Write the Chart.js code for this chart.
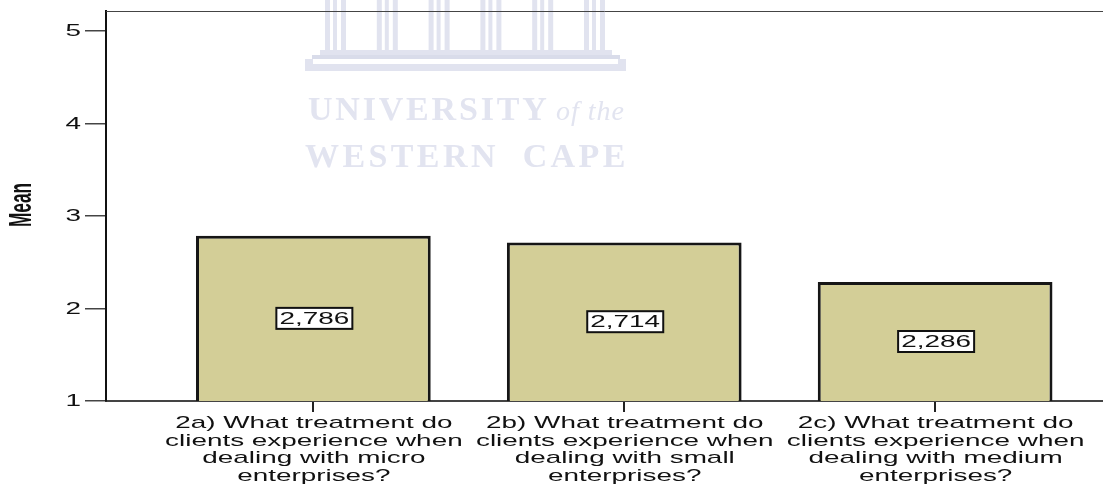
<!DOCTYPE html>
<html>
<head>
<meta charset="utf-8">
<style>html,body{margin:0;padding:0;background:#fff}#w{width:1103px;height:485px}</style>
<script src="https://cdn.jsdelivr.net/npm/chart.js@4"></script>
</head>
<body>
<div id="w"><canvas id="c" width="1103" height="485"></canvas></div>
<script>
const categories = [
  ["2a) What treatment do","clients experience when","dealing with micro","enterprises?"],
  ["2b) What treatment do","clients experience when","dealing with small","enterprises?"],
  ["2c) What treatment do","clients experience when","dealing with medium","enterprises?"]
];
const means = [2.786, 2.714, 2.286];
const yTicks = [1, 2, 3, 4, 5];
const yTitle = "Mean";
const watermark = ["UNIVERSITY", "of the", "WESTERN  CAPE"];

const SX = 1.64, FONT = '17px "Liberation Sans", Arial, sans-serif', INK = '#111';
function stretched(ctx, text, x, y, sx, align) {
  ctx.save();
  ctx.translate(x, y);
  ctx.scale(sx, 1);
  ctx.textAlign = align;
  ctx.textBaseline = 'middle';
  ctx.fillText(text, 0, 0);
  ctx.restore();
}
const fmt = v => v.toFixed(3).replace('.', ',');

const backdrop = {
  id: 'backdrop',
  beforeDraw(chart) {
    const ctx = chart.ctx;
    ctx.save();
    ctx.fillStyle = '#fff';
    ctx.fillRect(0, 0, 1103, 485);
    ctx.fillStyle = '#e1e3ef';
    for (let i = 0; i < 6; i++) {
      const x0 = 325 + i * 51.8;
      ctx.fillRect(x0, 0, 5, 50);
      ctx.fillRect(x0 + 8, 0, 4, 50);
      ctx.fillRect(x0 + 16, 0, 5, 50);
    }
    ctx.fillRect(320, 50, 292, 5);
    ctx.fillStyle = '#d9dcea';
    ctx.fillRect(312, 55, 308, 4);
    ctx.fillStyle = '#e1e3ef';
    ctx.fillRect(305, 64, 321, 7);
    ctx.fillRect(305, 59, 8, 5);
    ctx.fillRect(618, 59, 8, 5);
    ctx.fillStyle = '#e2e4f0';
    ctx.textBaseline = 'alphabetic';
    ctx.textAlign = 'left';
    ctx.font = 'bold 34px "Liberation Serif", serif';
    ctx.letterSpacing = '2.8px';
    ctx.fillText(watermark[0], 308, 120);
    ctx.font = 'italic 28px "Liberation Serif", serif';
    ctx.letterSpacing = '1px';
    ctx.fillText(watermark[1], 556, 120);
    ctx.font = 'bold 34px "Liberation Serif", serif';
    ctx.letterSpacing = '3.4px';
    ctx.fillText(watermark[2], 305, 167);
    ctx.restore();
  },
  afterDraw(chart) {
    const ctx = chart.ctx, a = chart.chartArea, xs = chart.scales.x, ys = chart.scales.y;
    ctx.save();
    ctx.strokeStyle = '#444';
    ctx.lineWidth = 1;
    ctx.beginPath();
    ctx.moveTo(a.left, a.top + 0.5);
    ctx.lineTo(1103, a.top + 0.5);
    ctx.stroke();

    ctx.fillStyle = INK;
    ctx.font = FONT;
    yTicks.forEach(v => stretched(ctx, String(v), 81, ys.getPixelForValue(v) + 0.5, SX, 'right'));
    categories.forEach((lines, i) => {
      const cx = xs.getPixelForValue(i) + 0.5;
      lines.forEach((t, j) => stretched(ctx, t, cx, 423.5 + j * 17.6, SX, 'center'));
    });

    ctx.save();
    ctx.translate(21.5, 205);
    ctx.rotate(-Math.PI / 2);
    ctx.font = 'bold 32px "Liberation Sans", Arial, sans-serif';
    stretched(ctx, yTitle, 0, 1, 0.54, 'center');
    ctx.restore();

    means.forEach((v, i) => {
      const cx = xs.getPixelForValue(i) + 1;
      const cy = (ys.getPixelForValue(v) + ys.getPixelForValue(ys.min)) / 2;
      ctx.fillStyle = '#fff';
      ctx.strokeStyle = '#111';
      ctx.lineWidth = 2;
      ctx.fillRect(cx - 38, cy - 10.5, 76, 21);
      ctx.strokeRect(cx - 38, cy - 10.5, 76, 21);
      ctx.fillStyle = INK;
      ctx.font = FONT;
      stretched(ctx, fmt(v), cx, cy + 0.5, SX, 'center');
    });
    ctx.restore();
  }
};

new Chart(document.getElementById('c'), {
  type: 'bar',
  data: {
    datasets: [{
      data: means.map((v, i) => ({ x: i, y: v })),
      backgroundColor: '#d3ce97',
      borderColor: '#161616',
      borderWidth: 3,
      borderSkipped: false,
      barPercentage: 0.755,
      categoryPercentage: 1
    }]
  },
  plugins: [backdrop],
  options: {
    responsive: false,
    animation: false,
    layout: { padding: { top: 11, right: 0, bottom: 0, left: 0 } },
    plugins: { legend: { display: false }, tooltip: { enabled: false }, title: { display: false } },
    scales: {
      x: {
        type: 'linear',
        offset: false,
        min: -0.667,
        max: 2.54,
        afterBuildTicks(s) { s.ticks = categories.map((_, i) => ({ value: i })); },
        afterFit(s) { s.height = 84; },
        ticks: { display: false },
        grid: { offset: false, drawOnChartArea: false, drawTicks: true, tickLength: 11, color: '#222', lineWidth: 2 },
        border: { color: '#444', width: 2 }
      },
      y: {
        type: 'linear',
        min: 1,
        max: 5.215,
        afterBuildTicks(s) { s.ticks = yTicks.map(v => ({ value: v })); },
        afterFit(s) { s.width = 106; },
        ticks: { display: false },
        grid: { drawOnChartArea: false, drawTicks: true, tickLength: 21, color: '#444', lineWidth: 1.5 },
        border: { color: '#111', width: 2 }
      }
    }
  }
});
</script>
</body>
</html>
